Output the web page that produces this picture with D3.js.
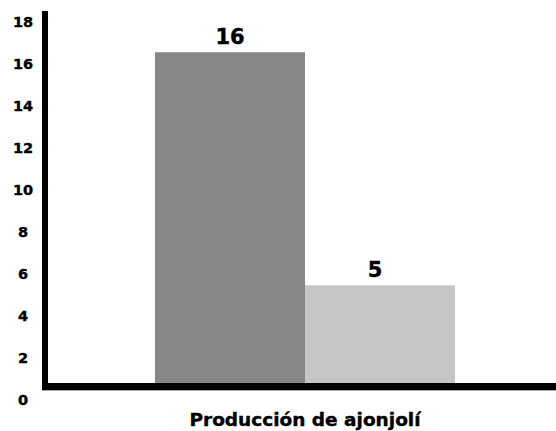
<!DOCTYPE html>
<html>
<head>
<meta charset="utf-8">
<script src="https://cdn.jsdelivr.net/npm/d3@7"></script>
<style>
  html, body { margin: 0; padding: 0; background: #fff; }
  text { font-family: "DejaVu Sans", "Liberation Sans", Arial, sans-serif; font-weight: bold; fill: #000; stroke: #000; stroke-width: 0.4px; }
</style>
</head>
<body>
<svg id="chart" width="556" height="431"></svg>
<script>
const categories = ["Producción de ajonjolí"];
const seriesNames = ["A", "B"];
const seriesValues = [15.75, 4.65];
const valueLabels = ["16", "5"];
const tickValues = [0, 2, 4, 6, 8, 10, 12, 14, 16, 18];
const colors = ["#878787", "#c5c5c5"];

const svg = d3.select("#chart");
const axisX = 45, baseY = 383;

const y = d3.scaleLinear().domain([0, 18]).range([baseY, baseY - 18 * 21]);
const x0 = d3.scaleBand().domain(categories).range([48, 562]).paddingInner(0).paddingOuter(0);
const x1 = d3.scaleBand().domain(seriesNames).range([x0(categories[0]) + 107, x0(categories[0]) + 407]);

// bars
svg.append("g").selectAll("rect")
  .data(seriesValues.map((v, i) => ({ v, i })))
  .join("rect")
  .attr("x", d => x1(seriesNames[d.i]))
  .attr("y", d => y(d.v))
  .attr("width", x1.bandwidth())
  .attr("height", d => baseY - y(d.v) + 1)
  .attr("fill", d => colors[d.i]);

// value labels
svg.append("g").selectAll("text")
  .data(seriesValues.map((v, i) => ({ v, i })))
  .join("text")
  .attr("x", d => x1(seriesNames[d.i]) + x1.bandwidth() / 2 - (d.i === 1 ? 5 : 0))
  .attr("y", d => y(d.v) - 8)
  .attr("text-anchor", "middle")
  .style("font-size", "21px")
  .text((d, i) => valueLabels[i]);

// y tick labels (offset below the tick position as in the original)
svg.append("g").selectAll("text")
  .data(tickValues)
  .join("text")
  .attr("x", 23)
  .attr("y", d => y(d) + 17 + 5)
  .attr("text-anchor", "middle")
  .style("font-size", "14.5px")
  .text(d => d);

// axis lines
svg.append("line")
  .attr("x1", 42).attr("x2", 556)
  .attr("y1", baseY + 3.5).attr("y2", baseY + 3.5)
  .attr("stroke", "#000").attr("stroke-width", 7);
svg.append("line")
  .attr("x1", 42).attr("x2", 556)
  .attr("y1", baseY + 7.5).attr("y2", baseY + 7.5)
  .attr("stroke", "#aaa").attr("stroke-width", 1);
svg.append("line")
  .attr("x1", axisX).attr("x2", axisX)
  .attr("y1", 11).attr("y2", baseY + 7)
  .attr("stroke", "#000").attr("stroke-width", 6);

// x label
svg.append("text")
  .attr("x", 305)
  .attr("y", 426)
  .attr("text-anchor", "middle")
  .style("font-size", "18.5px")
  .text(categories[0]);
</script>
</body>
</html>
